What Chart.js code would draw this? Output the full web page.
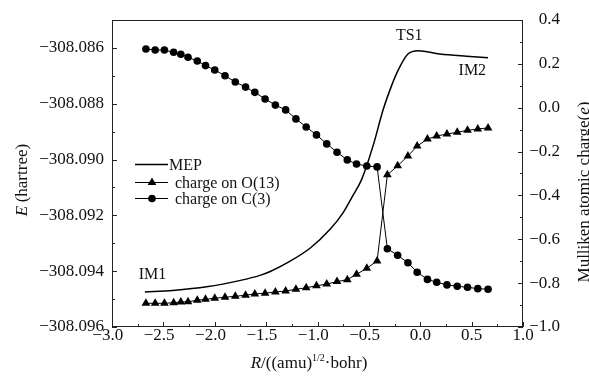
<!DOCTYPE html>
<html>
<head>
<meta charset="utf-8">
<script src="https://cdn.jsdelivr.net/npm/chart.js@4/dist/chart.umd.min.js"></script>
<style>
  html, body { margin: 0; padding: 0; background: #fff; }
  #wrap { width: 589px; height: 378px; }
</style>
</head>
<body>
<div id="wrap"><canvas id="graph" width="589" height="378"></canvas></div>
<script>
// Values

// MEP energy along the reaction coordinate (left axis)
const mepR = [-2.68, -2.41, -2.08, -1.75, -1.56, -1.46, -1.27, -1.07, -0.88, -0.75, -0.66,
  -0.57, -0.46, -0.36, -0.28, -0.21, -0.12, -0.02, 0.19, 0.45, 0.66];
const mepE = [-308.09475, -308.09469, -308.09456, -308.09433, -308.09415, -308.09401,
  -308.09365, -308.09317, -308.09251, -308.09190, -308.09132, -308.09071, -308.08952,
  -308.08820, -308.08736, -308.08676, -308.08622, -308.08610, -308.08622, -308.08630,
  -308.08635];

// Mulliken charges (right axis)
const chargeR = [-2.67, -2.58, -2.49, -2.40, -2.33, -2.26, -2.17, -2.09, -2.00, -1.90,
  -1.80, -1.70, -1.61, -1.51, -1.41, -1.31, -1.21, -1.11, -1.01, -0.91, -0.81, -0.71,
  -0.62, -0.52, -0.42, -0.32, -0.22, -0.12, -0.03, 0.07, 0.16, 0.26, 0.36, 0.46, 0.56, 0.66];
const chargeO13 = [-0.892, -0.892, -0.892, -0.889, -0.886, -0.885, -0.878, -0.874, -0.869,
  -0.864, -0.860, -0.855, -0.849, -0.846, -0.840, -0.836, -0.828, -0.821, -0.812, -0.804,
  -0.793, -0.784, -0.760, -0.732, -0.699, -0.306, -0.265, -0.220, -0.175, -0.143, -0.129,
  -0.120, -0.112, -0.103, -0.097, -0.092];
const chargeC3 = [0.268, 0.263, 0.263, 0.253, 0.244, 0.230, 0.213, 0.192, 0.172, 0.146,
  0.117, 0.094, 0.070, 0.040, 0.012, -0.010, -0.051, -0.088, -0.124, -0.165, -0.203,
  -0.238, -0.257, -0.266, -0.270, -0.643, -0.673, -0.707, -0.750, -0.783, -0.796, -0.808,
  -0.814, -0.819, -0.825, -0.828];

const seriesNames = ['MEP', 'charge on O(13)', 'charge on C(3)'];

// tick labels
const xTicks = [-3.0, -2.5, -2.0, -1.5, -1.0, -0.5, 0.0, 0.5, 1.0];
const energyTicks = [-308.096, -308.094, -308.092, -308.090, -308.088, -308.086];
const chargeTicks = [-1.0, -0.8, -0.6, -0.4, -0.2, 0.0, 0.2, 0.4];

// point labels on the MEP curve, in data units
const pointLabels = [
  { text: 'TS1', r: -0.107, e: -308.08553 },
  { text: 'IM2', r: 0.507, e: -308.08677 },
  { text: 'IM1', r: -2.606, e: -308.09409 },
];

const SERIF = "'Liberation Serif', 'Times New Roman', serif";
const INK = '#111';

function minus(v, d) {
  const s = Math.abs(v).toFixed(d);
  return (v < 0 && Number(s) !== 0 ? '\u2212' : '') + s;
}

function drawRich(ctx, parts, cx, cy, angle) {
  ctx.save();
  ctx.translate(cx, cy);
  ctx.rotate(angle);
  let w = 0;
  parts.forEach((p) => {
    ctx.font = p.font;
    p.w = ctx.measureText(p.text).width;
    w += p.w;
  });
  let x = -w / 2;
  ctx.textAlign = 'left';
  ctx.textBaseline = 'alphabetic';
  parts.forEach((p) => {
    ctx.font = p.font;
    ctx.fillText(p.text, x, 6 + (p.dy || 0));
    x += p.w;
  });
  ctx.restore();
}

// frame, inward ticks, titles, labels and legend
const decorations = {
  id: 'decorations',
  afterDraw(chart) {
    const { ctx, chartArea: a, scales } = chart;
    const line = (x1, y1, x2, y2) => {
      ctx.beginPath();
      ctx.moveTo(x1, y1);
      ctx.lineTo(x2, y2);
      ctx.stroke();
    };
    ctx.save();
    ctx.strokeStyle = '#222';
    ctx.lineWidth = 1;
    ctx.strokeRect(a.left + 0.5, a.top + 0.5, a.right - a.left - 1, a.bottom - a.top - 1);

    for (let i = 0; i <= 16; i++) {
      const px = Math.round(scales.x.getPixelForValue(-3 + i * 0.25)) + 0.5;
      line(px, a.bottom, px, a.bottom - (i % 2 ? 3 : 5));
    }
    for (let i = 0; i <= 10; i++) {
      const py = Math.round(scales.y.getPixelForValue(-308.096 + i * 0.001)) + 0.5;
      line(a.left, py, a.left + (i % 2 ? 3 : 5), py);
    }
    for (let i = 0; i <= 14; i++) {
      const py = Math.round(scales.y2.getPixelForValue(-1 + i * 0.1)) + 0.5;
      line(a.right, py, a.right - (i % 2 ? 3 : 5), py);
    }

    ctx.fillStyle = INK;
    const f17 = '17px ' + SERIF;
    const i17 = 'italic 17px ' + SERIF;
    drawRich(ctx, [{ text: 'E', font: i17 }, { text: '\u2009(hartree)', font: f17 }], 21, 180, -Math.PI / 2);
    drawRich(ctx, [{ text: 'Mulliken atomic charge(', font: f17 }, { text: 'e', font: i17 },
      { text: ')', font: f17 }], 583, 192, -Math.PI / 2);
    drawRich(ctx, [{ text: 'R', font: i17 }, { text: '/((amu)', font: f17 },
      { text: '1/2', font: '10px ' + SERIF, dy: -7 }, { text: '\u00b7bohr)', font: f17 }], 309, 362, 0);

    ctx.font = '16px ' + SERIF;
    ctx.textAlign = 'center';
    ctx.textBaseline = 'alphabetic';
    pointLabels.forEach((p) => {
      ctx.fillText(p.text, scales.x.getPixelForValue(p.r), scales.y.getPixelForValue(p.e) + 5.5);
    });

    // legend
    const rows = [164.5, 182.5, 198.5];
    chart.data.datasets.forEach((ds, i) => {
      const y = rows[i];
      ctx.strokeStyle = ds.borderColor;
      ctx.lineWidth = ds.borderWidth;
      line(135, y, 168, y);
      if (ds.pointRadius > 0) {
        ctx.fillStyle = ds.pointBackgroundColor;
        Chart.helpers.drawPoint(ctx, { pointStyle: ds.pointStyle, radius: ds.pointRadius, borderWidth: 0, rotation: 0 }, 152, y);
      }
      ctx.fillStyle = INK;
      ctx.textAlign = 'left';
      ctx.fillText(ds.label, i === 0 ? 169 : 175, y + 5);
    });
    ctx.restore();
  },
};

const ctx = document.getElementById('graph').getContext('2d');
const chart = new Chart(ctx, {
  type: 'line',
  data: {
    datasets: [
      {
        label: seriesNames[0],
        data: mepR.map((r, i) => ({ x: r, y: mepE[i] })),
        yAxisID: 'y',
        borderColor: '#000',
        borderWidth: 1.5,
        pointRadius: 0,
        cubicInterpolationMode: 'monotone',
      },
      {
        label: seriesNames[1],
        data: chargeR.map((r, i) => ({ x: r, y: chargeO13[i] })),
        yAxisID: 'y2',
        borderColor: '#000',
        borderWidth: 1,
        pointStyle: 'triangle',
        pointRadius: 5,
        pointBorderWidth: 0,
        pointBackgroundColor: '#000',
      },
      {
        label: seriesNames[2],
        data: chargeR.map((r, i) => ({ x: r, y: chargeC3[i] })),
        yAxisID: 'y2',
        borderColor: '#000',
        borderWidth: 1,
        pointStyle: 'circle',
        pointRadius: 3.8,
        pointBorderWidth: 0,
        pointBackgroundColor: '#000',
      },
    ],
  },
  options: {
    responsive: false,
    animation: false,
    devicePixelRatio: 1,
    layout: { padding: { left: 0, right: 29, top: 20, bottom: 0 } },
    plugins: { legend: { display: false }, tooltip: { enabled: false } },
    scales: {
      x: {
        type: 'linear',
        min: -3,
        max: 1,
        grid: { display: false, drawTicks: false },
        border: { display: false },
        afterFit: (s) => { s.height = 51; },
        afterBuildTicks: (s) => { s.ticks = xTicks.map((v) => ({ value: v })); },
        ticks: {
          padding: -2,
          maxRotation: 0,
          color: INK,
          font: { family: SERIF, size: 17 },
          callback: (v) => minus(v, 1) + (v < 0 ? '\u2002' : ''),
        },
      },
      y: {
        position: 'left',
        min: -308.096,
        max: -308.085,
        grid: { display: false, drawTicks: false },
        border: { display: false },
        afterFit: (s) => { s.width = 112; },
        afterBuildTicks: (s) => { s.ticks = energyTicks.map((v) => ({ value: v })); },
        ticks: {
          padding: 8,
          color: INK,
          font: { family: SERIF, size: 17 },
          callback: (v) => minus(v, 3),
        },
      },
      y2: {
        position: 'right',
        min: -1,
        max: 0.4,
        grid: { display: false, drawTicks: false },
        border: { display: false },
        afterFit: (s) => { s.width = 37; },
        afterBuildTicks: (s) => { s.ticks = chargeTicks.map((v) => ({ value: v })); },
        ticks: {
          crossAlign: 'far',
          color: INK,
          font: { family: SERIF, size: 17 },
          callback: (v) => minus(v, 1),
        },
      },
    },
  },
  plugins: [decorations],
});
</script>
</body>
</html>
